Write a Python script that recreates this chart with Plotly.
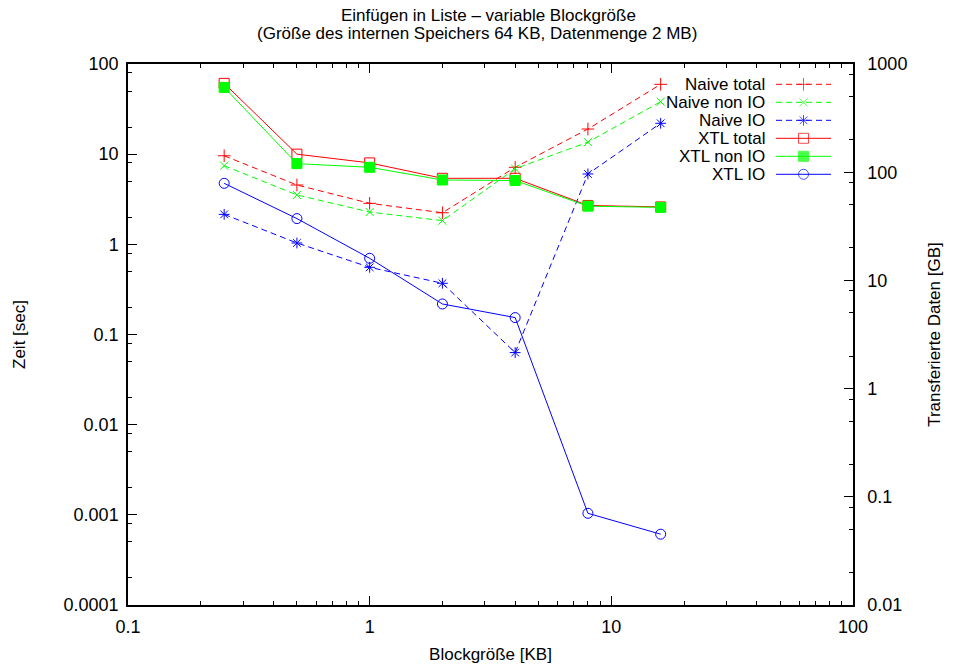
import plotly.graph_objects as go

block_kb = [0.25, 0.5, 1, 2, 4, 8, 16]

naive_total = [9.6, 4.55, 2.85, 2.24, 7.15, 19.0, 59.5]
naive_non_io = [7.45, 3.53, 2.28, 1.83, 6.9, 13.6, 38.2]
naive_io = [2.15, 1.035, 0.556, 0.37, 0.063, 6.03, 22.0]
xtl_total = [61.0, 10.0, 8.0, 5.4, 5.4, 2.7, 2.6]
xtl_non_io = [55.0, 7.85, 7.15, 5.17, 5.1, 2.65, 2.57]
xtl_io = [4.75, 1.93, 0.70, 0.218, 0.154, 0.00104, 0.00061]

names = ["Naive total", "Naive non IO", "Naive IO", "XTL total", "XTL non IO", "XTL IO"]
series = [naive_total, naive_non_io, naive_io, xtl_total, xtl_non_io, xtl_io]
colors = ["#ff0000", "#00ff00", "#0000ff", "#ff0000", "#00ff00", "#0000ff"]
dashes = ["dash", "dash", "dash", "solid", "solid", "solid"]
symbols = ["cross-thin-open", "x-thin-open", "asterisk-open", "square-open", "square", "circle-open"]
msizes = [9, 8, 9, 10, 10, 10]

left_ticks = [0.0001, 0.001, 0.01, 0.1, 1, 10, 100]
left_labels = ["0.0001", "0.001", "0.01", "0.1", "1", "10", "100"]
right_ticks = [0.01, 0.1, 1, 10, 100, 1000]
right_labels = ["0.01", "0.1", "1", "10", "100", "1000"]
x_ticks = [0.1, 1, 10, 100]
x_labels = ["0.1", "1", "10", "100"]

title_line1 = "Einfügen in Liste – variable Blockgröße"
title_line2 = "(Größe des internen Speichers 64 KB, Datenmenge 2 MB)"

FONT = "Liberation Sans, Arial, sans-serif"
fig = go.Figure()

for name, ys, c, d, s, ms in zip(names, series, colors, dashes, symbols, msizes):
    fig.add_trace(go.Scatter(
        x=block_kb, y=ys, name=name, mode="lines+markers",
        line=dict(color=c, width=1, dash="6px,4px" if d == "dash" else "solid"),
        marker=dict(symbol=s, size=ms, color=c, line=dict(color=c, width=1)),
        showlegend=False, xaxis="x", yaxis="y"))

# dummy trace so the right axis is drawn
fig.add_trace(go.Scatter(x=[1], y=[1], mode="markers", marker=dict(opacity=0),
                         xaxis="x", yaxis="y2", showlegend=False, hoverinfo="skip"))

# custom gnuplot-style legend (text left, sample right)
for i, (name, c, d, s, ms) in enumerate(zip(names, colors, dashes, symbols, msizes)):
    fig.add_trace(go.Scatter(
        x=[0, 0.5, 1], y=[i, i, i], mode="lines+markers",
        line=dict(color=c, width=1, dash="6px,4px" if d == "dash" else "solid"),
        marker=dict(symbol=s, size=[0, ms, 0], color=c, line=dict(color=c, width=1)),
        xaxis="x3", yaxis="y3", showlegend=False, hoverinfo="skip"))
    fig.add_annotation(text=name, x=0.882, xref="paper", y=i, yref="y3",
                       xanchor="right", yanchor="middle", showarrow=False,
                       font=dict(family=FONT, size=17, color="black"))

# title as two separately placed lines (tight gnuplot line spacing)
fig.add_annotation(text=title_line1, x=(488 - 128) / 725, xref="paper", y=(605 - 16) / 541,
                   yref="paper", xanchor="center", yanchor="middle", showarrow=False,
                   font=dict(family=FONT, size=17, color="black"))
fig.add_annotation(text=title_line2, x=(477 - 128) / 725, xref="paper", y=(605 - 34) / 541,
                   yref="paper", xanchor="center", yanchor="middle", showarrow=False,
                   font=dict(family=FONT, size=17, color="black"))

def minor_vals(lo, hi, digits):
    out = []
    e = lo
    while e < hi:
        for d in digits:
            out.append(d * 10 ** e)
        e += 1
    return out

axis_common = dict(type="log", showgrid=False, zeroline=False, showline=True,
                   linecolor="black", linewidth=1.5, ticks="inside", ticklen=9,
                   tickcolor="black", tickwidth=1, automargin=False,
                   tickfont=dict(family=FONT, size=18, color="black"))

fig.update_layout(
    width=955, height=666,
    margin=dict(l=128, r=102, t=64, b=61),
    paper_bgcolor="white", plot_bgcolor="white",
    font=dict(family=FONT, size=18, color="black"),
    xaxis=dict(**axis_common, range=[-1, 2], tickmode="array", tickvals=x_ticks, ticktext=x_labels,
               mirror="ticks", ticklabelstandoff=5,
               minor=dict(tickmode="array", tickvals=minor_vals(-1, 2, [2, 3, 4, 5, 6, 7, 8, 9]),
                          ticks="inside", ticklen=4, tickcolor="black", tickwidth=1),
               title=dict(text="Blockgröße [KB]", standoff=12, font=dict(family=FONT, size=17))),
    yaxis=dict(**axis_common, range=[-4, 2], tickmode="array", tickvals=left_ticks, ticktext=left_labels,
               ticklabelstandoff=4,
               minor=dict(tickmode="array", tickvals=minor_vals(-4, 2, [2, 5, 8]),
                          ticks="inside", ticklen=4, tickcolor="black", tickwidth=1),
               title=dict(text="Zeit [sec]", standoff=34, font=dict(family=FONT, size=17))),
    yaxis2=dict(**axis_common, range=[-2, 3], overlaying="y", side="right", anchor="x",
                tickmode="array", tickvals=right_ticks, ticktext=right_labels,
                ticklabelstandoff=9,
                minor=dict(tickmode="array", tickvals=minor_vals(-2, 3, [2, 5, 8]),
                           ticks="inside", ticklen=4, tickcolor="black", tickwidth=1),
                title=dict(text="Transferierte Daten [GB]", standoff=22, font=dict(family=FONT, size=17))),
    xaxis3=dict(domain=[0.8938, 0.9697], range=[0, 1], visible=False, anchor="y3"),
    yaxis3=dict(domain=[0.7795, 0.9791], range=[5.5, -0.5], visible=False, anchor="x3"),
)

fig.write_html("out.html")
